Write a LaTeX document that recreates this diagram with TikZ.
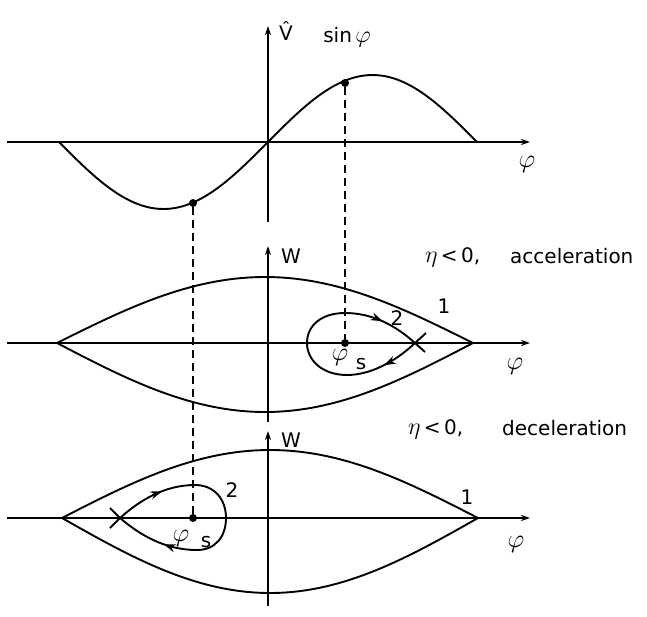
\RequirePackage{fix-cm}
\documentclass[tikz,border=0pt]{standalone}
\usepackage{fontspec}
\setmainfont{DejaVu Sans}
\usetikzlibrary{arrows.meta,decorations.markings}
\tikzset{
  curve/.style={line width=1.9pt, line join=round},
  axis/.style={line width=1.9pt, -{Stealth[length=9pt,width=6pt]}},
  guide/.style={line width=1.4pt, dash pattern=on 8pt off 5pt},
  lbl/.style={font=\fontsize{20}{24}\selectfont, inner sep=0pt},
  small/.style={font=\fontsize{20}{24}\selectfont, inner sep=0pt},
  phil/.style={font=\fontsize{26}{30}\selectfont, inner sep=0pt},
  dot/.style={circle, fill=black, inner sep=0pt, minimum size=8pt},
  flow/.style={line width=1.9pt, postaction={decorate}, decoration={markings, mark=at position #1 with {\arrow{Stealth[length=12pt,width=8pt]}}}}
}
\begin{document}
\begin{tikzpicture}[x=1pt,y=-1pt]
\useasboundingbox (0,0) rectangle (647,616);
% ---------- axes ----------
\coordinate (tL) at (7,142);  \coordinate (tR) at (530,142);
\coordinate (tB) at (268,222); \coordinate (tT) at (268,26);
\coordinate (mL) at (7,343);  \coordinate (mR) at (530,343);
\coordinate (mB) at (268,422); \coordinate (mT) at (268,246);
\coordinate (bL) at (7,518);  \coordinate (bR) at (530,518);
\coordinate (bB) at (268,606); \coordinate (bT) at (268,431);
\draw[axis] (tL) -- (tR);
\draw[axis] (tB) -- (tT);
\draw[axis] (mL) -- (mR);
\draw[axis] (mB) -- (mT);
\draw[axis] (bL) -- (bR);
\draw[axis] (bB) -- (bT);
% ---------- top: sine ----------
\draw[curve] plot[domain=59:477, samples=100] (\x, {142-67*sin((\x-268)/209*180)});
\node[dot] (pA) at (345,83) {};
\node[dot] (pB) at (193,203) {};
% ---------- middle: acceleration ----------
\draw[curve] plot[domain=57:473, samples=100] (\x, {343-66*cos((\x-265)/208*90)});
\draw[curve] plot[domain=57:473, samples=100] (\x, {343+69*cos((\x-265)/208*90)});
\node[dot] (sM) at (345,343) {};
\draw[curve] (426,333) -- (415,343) .. controls (395,362) and (370,375) .. (347,375)
  .. controls (322,375) and (307,360) .. (307,343)
  .. controls (307,325) and (322,313) .. (345,313)
  .. controls (372,313) and (395,325) .. (415,343) -- (425,352);
\path[flow=0.5] (415,343) .. controls (395,362) and (370,375) .. (347,375);
\path[flow=0.5] (345,313) .. controls (372,313) and (395,325) .. (415,343);
% ---------- bottom: deceleration ----------
\draw[curve] plot[domain=62:478, samples=100] (\x, {518-68*cos((\x-270)/208*90)});
\draw[curve] plot[domain=62:478, samples=100] (\x, {518+75*cos((\x-270)/208*90)});
\node[dot] (sB) at (193,518) {};
\draw[curve] (110,528) -- (120,518) .. controls (140,500) and (165,485) .. (195,485)
  .. controls (215,485) and (226,500) .. (226,518)
  .. controls (226,537) and (215,550) .. (197,550)
  .. controls (165,550) and (140,535) .. (120,518) -- (110,508);
\path[flow=0.6] (120,518) .. controls (140,500) and (165,485) .. (195,485);
\path[flow=0.4] (197,550) .. controls (165,550) and (140,535) .. (120,518);
% ---------- dashed guides ----------
\draw[guide] (pA) -- (sM);
\draw[guide] (pB) -- (sB);
% ---------- labels ----------
\node[small] (lV) at (286,31) {\^{V}};
\node[lbl] (lsin) at (347,37) {sin\,\fontsize{24}{28}\selectfont$\varphi$};
\node[phil] (ph1) at (527,164) {$\varphi$};
\node[phil] (ph2) at (515,366) {$\varphi$};
\node[phil] (ph3) at (516,544) {$\varphi$};
\node[small] (lW1) at (291,256) {W};
\node[small] (lW2) at (291,440) {W};
\node[lbl, anchor=west] (eta1) at (425,257) {{\fontsize{24}{28}\selectfont$\eta$}\,<\,0,};
\node[lbl, anchor=west] (acc) at (510,256) {acceleration};
\node[lbl, anchor=west] (eta2) at (408,429) {{\fontsize{24}{28}\selectfont$\eta$}\,<\,0,};
\node[lbl, anchor=west] (dec) at (502,428) {deceleration};
\node[small] (n1m) at (444,306) {1};
\node[small] (n2m) at (397,318) {2};
\node[small] (n1b) at (467,497) {1};
\node[small] (n2b) at (232,490) {2};
\node[phil] (psM) at (340,357) {$\varphi$};
\node[lbl] (ssM) at (361,364) {s};
\node[phil] (psB) at (181,538) {$\varphi$};
\node[lbl] (ssB) at (206,542) {s};
\end{tikzpicture}
\end{document}
